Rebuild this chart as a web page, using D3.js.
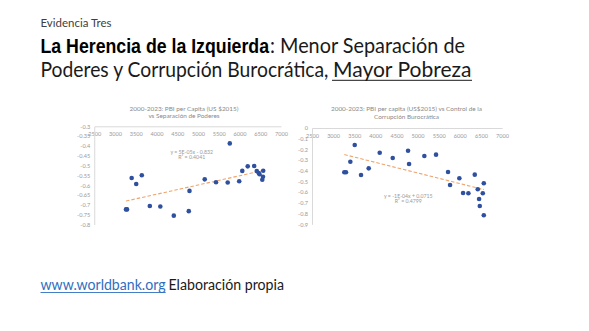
<!DOCTYPE html>
<html><head><meta charset="utf-8">
<script src="https://cdn.jsdelivr.net/npm/d3@7"></script>
<style>
html,body{margin:0;padding:0;background:#fff;}
svg{display:block;}
</style></head>
<body>
<svg id="c" width="589" height="331"></svg>
<script>
// ---- Data ----
const gdpA = [3265, 3290, 3402, 3511, 3646, 3839, 4092, 4417, 4778, 4795, 5162, 5434, 5716, 5766, 5993, 6067, 6198, 6354, 6417, 6463, 6482, 6571, 6566, 6549];
const separacion = [-0.723, -0.723, -0.563, -0.594, -0.549, -0.706, -0.708, -0.755, -0.732, -0.629, -0.570, -0.585, -0.586, -0.387, -0.580, -0.527, -0.504, -0.502, -0.528, -0.538, -0.544, -0.526, -0.557, -0.572];
const gdpB = [3265, 3305, 3408, 3512, 3661, 3843, 4104, 4412, 4775, 4799, 5161, 5438, 5722, 5770, 5990, 6078, 6204, 6355, 6426, 6545, 6569, 6457, 6474, 6569];
const corrupcion = [-0.414, -0.414, -0.315, -0.159, -0.439, -0.377, -0.231, -0.280, -0.212, -0.336, -0.262, -0.249, -0.411, -0.533, -0.470, -0.607, -0.610, -0.436, -0.573, -0.610, -0.517, -0.664, -0.729, -0.816];
const trendA = [4.7e-5, -0.834];
const trendB = [-9.9e-5, 0.075];
const xTicks = [2500, 3000, 3500, 4000, 4500, 5000, 5500, 6000, 6500, 7000];
const yTicksA = [-0.3, -0.35, -0.4, -0.45, -0.5, -0.55, -0.6, -0.65, -0.7, -0.75, -0.8];
const yTicksB = [0, -0.1, -0.2, -0.3, -0.4, -0.5, -0.6, -0.7, -0.8, -0.9];
const titleA = ["2000-2023: PBI per Capita (US $2015)", "vs Separación de Poderes"];
const titleB = ["2000-2023:  PBI per capita (US$2015) vs Control de la", "Corrupción Burocrática"];
const eqA = ["y = 5E-05x - 0.832", "R² = 0.4041"];
const eqB = ["y = -1E-04x + 0.0715", "R² = 0.4799"];

const svg = d3.select("#c");
svg.append("rect").attr("width",589).attr("height",331).attr("fill","#fff");
const FONT = "Lato, 'Open Sans', sans-serif";

// ---- Slide text ----
function txt(s, x, y, size, opts={}) {
  const t = svg.append("text").attr("x", x).attr("y", y)
    .attr("font-family", opts.family || FONT)
    .attr("font-size", size)
    .attr("font-weight", opts.weight || "normal")
    .attr("fill", opts.fill || "#1a1a1a")
    .text(s);
  if (opts.len) t.attr("textLength", opts.len).attr("lengthAdjust","spacingAndGlyphs");
  return t;
}
txt("Evidencia Tres", 40.5, 27.3, 11.5, {fill:"#404040", len:71});
txt("La Herencia de la Izquierda", 40.5, 53.3, 19.5, {family:"'Liberation Sans', Arial, sans-serif", weight:"bold", fill:"#000", len:228.5});
txt(": Menor Separación de", 270, 53.3, 22, {len:195});
txt("Poderes y Corrupción Burocrática,", 40.5, 76.7, 22, {len:288});
txt("Mayor Pobreza", 333, 76.7, 22, {len:138.5});
svg.append("line").attr("x1",332).attr("x2",472).attr("y1",80.3).attr("y2",80.3).attr("stroke","#1a1a1a").attr("stroke-width",1);
txt("www.worldbank.org", 40.5, 290, 14.5, {fill:"#2f6fc0", len:125});
svg.append("line").attr("x1",40.5).attr("x2",165.7).attr("y1",292.5).attr("y2",292.5).attr("stroke","#2f6fc0").attr("stroke-width",0.9);
txt("Elaboración propia", 168.5, 290, 14.5, {fill:"#1a1a1a", len:115.5});

// ---- Chart builder ----
function chart(cfg) {
  const g = svg.append("g");
  const x = d3.scaleLinear().domain([2500, 7000]).range(cfg.xr);
  const y = d3.scaleLinear().domain(cfg.yd).range(cfg.yr);
  const axCol = "#d9d9d9", lblCol = "#9a9a9a";

  const xa = g.append("g").attr("transform", `translate(0,${y(cfg.yd[1])})`)
    .call(d3.axisBottom(x).tickValues(xTicks).tickSize(0).tickPadding(6).tickFormat(d3.format("d")));
  const ya = g.append("g").attr("transform", `translate(${x(2500)},0)`)
    .call(d3.axisLeft(y).tickValues(cfg.yTicks).tickSize(0).tickPadding(4).tickFormat(d => d === 0 ? "0" : String(+d.toFixed(2))));
  [xa, ya].forEach(a => {
    a.select(".domain").attr("stroke", axCol).attr("stroke-width", 1);
    a.selectAll("text").attr("fill", lblCol).attr("font-family", FONT).attr("font-size", 5.6);
  });

  // trend line
  const ext = d3.extent(cfg.xs);
  const tl = ext.map(v => [v, cfg.trend[0]*v + cfg.trend[1]]);
  g.append("path").attr("d", d3.line().x(d => x(d[0])).y(d => y(d[1]))(tl))
    .attr("stroke", "#f1a36a").attr("stroke-width", 1.1).attr("stroke-dasharray", "3.5,2").attr("fill","none");

  // points
  g.selectAll("circle.p").data(cfg.xs.map((v,i)=>[v, cfg.ys[i]])).join("circle")
    .attr("cx", d => x(d[0])).attr("cy", d => y(d[1])).attr("r", 2.3).attr("fill", "#2f509f");

  // title
  cfg.title.forEach((t,i) => {
    g.append("text").attr("x", cfg.tx).attr("y", cfg.ty + i*7.3).attr("text-anchor","middle")
      .attr("font-family", FONT).attr("font-size", 6.4).attr("fill", "#8a8a8a").text(t);
  });
  // equation
  cfg.eq.forEach((t,i) => {
    g.append("text").attr("x", cfg.ex).attr("y", cfg.ey + i*5.8).attr("text-anchor","middle")
      .attr("font-family", FONT).attr("font-size", 5.2).attr("fill", "#9a9a9a").text(t);
  });
}

chart({xs: gdpA, ys: separacion, xr: [94.25, 281], yd: [-0.8, -0.3], yr: [224.5, 126.3], yTicks: yTicksA,
  trend: trendA, title: titleA, tx: 184, ty: 110.5, eq: eqA, ex: 191.7, ey: 153.5});
chart({xs: gdpB, ys: corrupcion, xr: [312, 502], yd: [-0.9, 0], yr: [224.3, 128], yTicks: yTicksB,
  trend: trendB, title: titleB, tx: 406.5, ty: 111.3, eq: eqB, ex: 408.3, ey: 197.5});
</script>
</body></html>
